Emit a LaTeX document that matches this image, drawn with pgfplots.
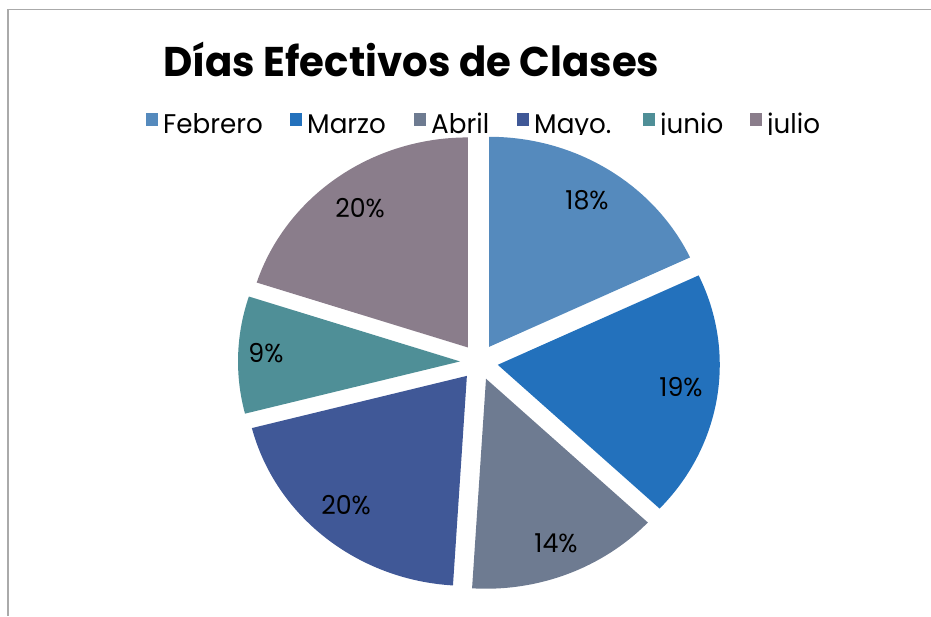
\documentclass[border=0pt]{standalone}
\usepackage{pgfplots}
\pgfplotsset{compat=1.18}
\usepackage{fontspec}
\setmainfont{Poppins}[FakeStretch=0.97]
\definecolor{cFeb}{RGB}{85,138,189}
\definecolor{cMar}{RGB}{35,113,188}
\definecolor{cAbr}{RGB}{110,123,145}
\definecolor{cMay}{RGB}{64,88,151}
\definecolor{cJun}{RGB}{79,143,151}
\definecolor{cJul}{RGB}{138,125,139}
\def\cum{0}
% #1 value (percent), #2 colour
\newcommand\slice[2]{%
  \pgfmathsetmacro\sa{90-3.6*\cum}%
  \pgfmathsetmacro\ea{90-3.6*(\cum+#1)}%
  \pgfmathsetmacro\ma{(\sa+\ea)/2}%
  \pgfmathsetmacro\ox{479+19*cos(\ma)}%
  \pgfmathsetmacro\oy{254+18*sin(\ma)}%
  \edef\tmp{\noexpand\fill[#2] (axis cs:\ox,\oy) -- ++(\sa:222pt and 210pt)
    arc[start angle=\sa, end angle=\ea, x radius=222pt, y radius=210pt] -- cycle;}%
  \tmp
  \pgfmathsetmacro\newcum{\cum+#1}%
  \xdef\cum{\newcum}%
}
\begin{document}
\begin{tikzpicture}
\begin{axis}[x=1pt,y=1pt,xmin=0,xmax=931,ymin=0,ymax=616,
  at={(0,0)},anchor=origin,hide axis,clip=false]
\slice{18}{cFeb}
\slice{19}{cMar}
\slice{14}{cAbr}
\slice{20}{cMay}
\slice{9}{cJun}
\slice{20}{cJul}
\end{axis}
\pgfresetboundingbox
\path[use as bounding box] (0,0) rectangle (931pt,616pt);
% border
\draw[line width=1.5pt,color={rgb,255:red,170;green,170;blue,170}] (931pt,606.5pt) -- (8pt,606.5pt) -- (8pt,0pt);
% title
\node[anchor=base west,inner sep=0pt,font=\fontsize{41.5}{41.5}\selectfont\bfseries] at (163pt,539pt) {Días Efectivos de Clases};
% legend (clipped at the bottom like the original)
\begin{scope}
\clip (0pt,481pt) rectangle (931pt,616pt);
\foreach \x/\c/\t in {146/cFeb/Febrero,290/cMar/Marzo,414/cAbr/Abril,517/cMay/Mayo.,643/cJun/junio,750/cJul/julio}{
  \fill[\c] (\x pt,490pt) rectangle ++(12pt,13pt);
  \node[anchor=base west,inner sep=0pt,font=\fontsize{27}{27}\selectfont] at (\x pt+17pt,482pt) {\t};
}
\end{scope}
% data labels
\begin{scope}[every node/.style={font=\fontsize{26}{26}\selectfont,inner sep=0pt}]
\node at (587pt,416pt) {18\%};
\node at (681pt,229pt) {19\%};
\node at (556pt,73pt) {14\%};
\node at (346pt,111pt) {20\%};
\node at (266pt,263pt) {9\%};
\node at (360pt,408pt) {20\%};
\end{scope}
\end{tikzpicture}
\end{document}
